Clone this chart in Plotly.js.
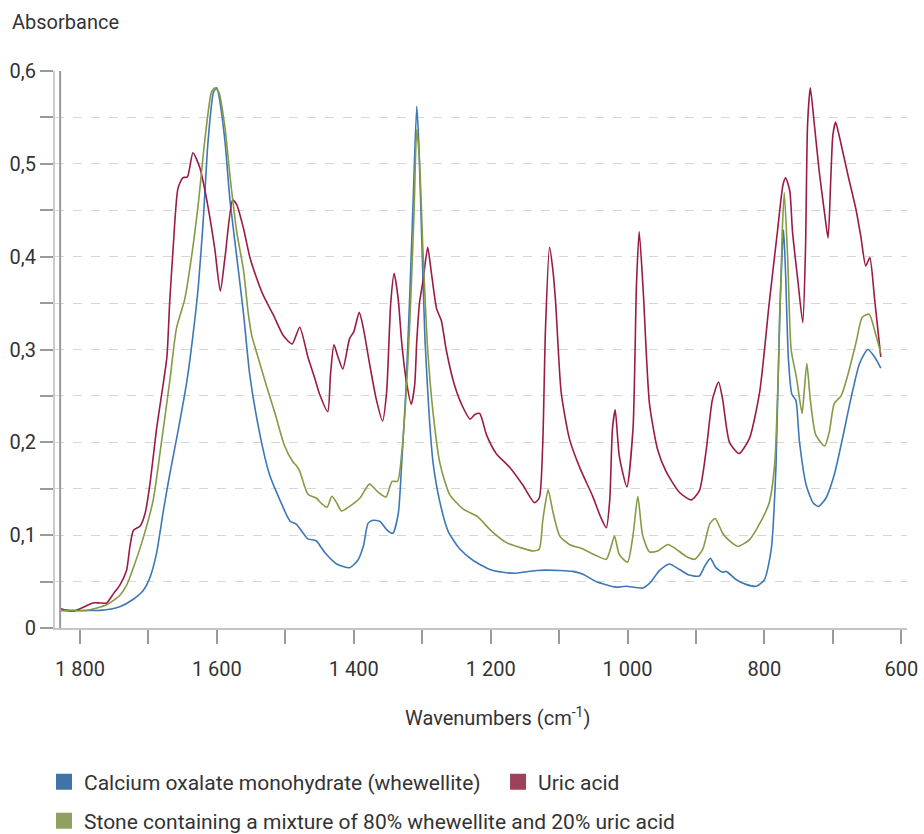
<!DOCTYPE html>
<html>
<head>
<meta charset="utf-8">
<script src="https://cdn.plot.ly/plotly-3.0.1.min.js"></script>
<style>html,body{margin:0;padding:0;background:#fff;}#chart{width:924px;height:834px;}</style>
</head>
<body>
<div id="chart"></div>
<script>
// ---- Data ----
const seriesNames = [
  "Calcium oxalate monohydrate (whewellite)",
  "Uric acid",
  "Stone containing a mixture of 80% whewellite and 20% uric acid"
];

const wnWhewellite = [1829,1810,1771,1742,1722,1708,1698,1688,1678,1669,1656,1644,1635,1627,1620,1613,1605,1600,1596,1588,1581,1571,1561,1552,1537,1523,1508,1493,1484,1467,1455,1442,1425,1406,1394,1386,1379,1372,1362,1352,1343,1335,1330,1324,1318,1313,1308,1305,1301,1296,1290,1284,1274,1262,1245,1226,1201,1182,1163,1133,1099,1080,1065,1046,1017,1002,978,968,953,939,924,910,895,887,879,871,861,856,841,827,812,800,790,783,778,772,769,765,760,754,749,739,729,721,710,698,686,674,661,649,639,630];
const absWhewellite = [0.019,0.019,0.019,0.023,0.031,0.040,0.054,0.081,0.127,0.165,0.215,0.265,0.315,0.369,0.438,0.523,0.577,0.582,0.569,0.523,0.462,0.400,0.338,0.273,0.208,0.165,0.138,0.115,0.112,0.096,0.094,0.081,0.069,0.065,0.073,0.088,0.113,0.116,0.115,0.106,0.102,0.123,0.177,0.254,0.362,0.465,0.562,0.523,0.427,0.312,0.231,0.177,0.135,0.104,0.085,0.073,0.063,0.060,0.059,0.062,0.062,0.061,0.058,0.050,0.044,0.045,0.043,0.048,0.062,0.069,0.063,0.057,0.056,0.067,0.075,0.065,0.060,0.061,0.052,0.047,0.045,0.052,0.085,0.177,0.331,0.429,0.380,0.290,0.252,0.245,0.202,0.154,0.135,0.131,0.140,0.165,0.204,0.246,0.285,0.300,0.292,0.280];

const wnUric = [1829,1810,1781,1771,1761,1751,1742,1732,1727,1722,1712,1705,1698,1688,1681,1673,1669,1664,1657,1650,1643,1635,1625,1613,1603,1595,1588,1577,1571,1561,1552,1542,1532,1518,1503,1490,1479,1467,1457,1450,1438,1434,1429,1423,1416,1406,1400,1392,1386,1377,1367,1358,1352,1346,1341,1335,1330,1323,1316,1311,1308,1304,1299,1292,1287,1279,1272,1265,1253,1240,1230,1223,1216,1206,1192,1172,1153,1136,1129,1124,1120,1114,1109,1105,1097,1085,1070,1051,1039,1031,1026,1022,1018,1012,1001,992,987,983,977,968,956,944,924,907,895,885,876,867,861,851,837,822,807,793,781,773,769,763,759,751,744,740,737,733,727,720,712,707,703,700,696,691,678,666,659,652,646,639,630];
const absUric = [0.021,0.018,0.027,0.027,0.027,0.037,0.046,0.062,0.088,0.105,0.110,0.123,0.154,0.215,0.250,0.292,0.350,0.408,0.473,0.485,0.486,0.512,0.496,0.454,0.408,0.363,0.400,0.461,0.456,0.430,0.400,0.377,0.358,0.338,0.315,0.306,0.324,0.292,0.269,0.252,0.233,0.273,0.305,0.292,0.279,0.312,0.319,0.340,0.323,0.285,0.246,0.223,0.254,0.350,0.382,0.354,0.308,0.265,0.241,0.262,0.308,0.350,0.373,0.410,0.385,0.344,0.331,0.300,0.262,0.237,0.225,0.230,0.231,0.208,0.188,0.173,0.154,0.135,0.140,0.196,0.320,0.410,0.385,0.350,0.254,0.204,0.173,0.142,0.119,0.108,0.138,0.215,0.235,0.185,0.152,0.215,0.369,0.427,0.362,0.242,0.192,0.169,0.146,0.138,0.148,0.192,0.246,0.265,0.246,0.200,0.188,0.204,0.254,0.350,0.427,0.477,0.485,0.471,0.427,0.373,0.329,0.408,0.542,0.582,0.542,0.492,0.446,0.420,0.485,0.531,0.545,0.531,0.488,0.450,0.421,0.390,0.399,0.354,0.292];

const wnMixture = [1829,1790,1761,1742,1732,1722,1708,1693,1681,1669,1659,1647,1637,1627,1618,1608,1603,1597,1588,1581,1571,1561,1554,1549,1540,1528,1515,1501,1489,1484,1479,1467,1455,1447,1439,1432,1425,1418,1406,1391,1377,1364,1353,1344,1336,1330,1324,1318,1312,1308,1304,1299,1292,1284,1274,1260,1240,1219,1201,1177,1158,1138,1129,1124,1121,1116,1109,1099,1085,1065,1046,1031,1025,1019,1012,1000,992,985,978,968,956,941,929,914,902,890,880,872,861,854,839,822,805,793,785,779,774,771,766,761,753,745,742,738,733,725,712,705,698,688,678,666,657,647,637,630];
const absMixture = [0.019,0.019,0.025,0.035,0.046,0.065,0.096,0.138,0.200,0.265,0.323,0.354,0.400,0.458,0.523,0.577,0.582,0.577,0.538,0.488,0.427,0.385,0.338,0.315,0.292,0.262,0.231,0.196,0.179,0.175,0.169,0.144,0.140,0.134,0.130,0.142,0.135,0.126,0.131,0.140,0.155,0.146,0.141,0.158,0.158,0.188,0.246,0.331,0.446,0.537,0.504,0.408,0.300,0.231,0.177,0.144,0.128,0.120,0.106,0.092,0.087,0.083,0.085,0.115,0.130,0.149,0.125,0.099,0.090,0.085,0.078,0.074,0.085,0.099,0.079,0.071,0.100,0.142,0.100,0.082,0.083,0.090,0.085,0.077,0.074,0.085,0.112,0.118,0.102,0.096,0.088,0.095,0.115,0.135,0.177,0.292,0.427,0.469,0.398,0.300,0.269,0.231,0.254,0.285,0.246,0.208,0.196,0.212,0.242,0.250,0.273,0.308,0.335,0.338,0.315,0.296];

const xTickValues = [1800,1600,1400,1200,1000,800,600];
const xTickLabels = ["1 800","1 600","1 400","1 200","1 000","800","600"];
const xMinorTickValues = [1700,1500,1300,1100,900,700];
const yTickValues = [0,0.1,0.2,0.3,0.4,0.5,0.6];
const yTickLabels = ["0","0,1","0,2","0,3","0,4","0,5","0,6"];
const yMinorTickValues = [0.05,0.15,0.25,0.35,0.45,0.55];

// ---- Styles ----
const lineColors = ["#3d78b6", "#9b1b48", "#859a45"];
const swatchColors = ["#3e74a8", "#9d4258", "#8fa060"];
const FONT = "Roboto, 'Open Sans', sans-serif";
const TXT = "#333333";
const TICK = "#9a9a9a";
const GRID = "#d6d6d6";

const xs = [wnWhewellite, wnUric, wnMixture];
const ys = [absWhewellite, absUric, absMixture];
const legendIds = ["legend", "legend3", "legend2"];

const traces = [];
for (let i = 0; i < 3; i++) {
  traces.push({
    type: "scatter", mode: "lines",
    x: xs[i], y: ys[i],
    line: {color: lineColors[i], width: 1.6, shape: "spline", smoothing: 0.6},
    showlegend: false, hoverinfo: "x+y", name: seriesNames[i]
  });
}
for (let i = 0; i < 3; i++) {
  traces.push({
    type: "scatter", mode: "markers",
    x: [null], y: [null],
    marker: {symbol: "square", size: 16, color: swatchColors[i]},
    name: seriesNames[i],
    showlegend: true,
    legend: legendIds[i]
  });
}

function legendAt(x, y) {
  return {
    orientation: "h", x: x, xanchor: "left", y: y, yanchor: "middle",
    font: {family: FONT, size: 21, color: TXT}, bgcolor: "rgba(0,0,0,0)",
    itemclick: false, itemdoubleclick: false
  };
}

const layout = {
  width: 924, height: 834,
  margin: {l: 55, r: 17, t: 71, b: 206, autoexpand: false},
  paper_bgcolor: "#ffffff", plot_bgcolor: "#ffffff",
  font: {family: FONT, size: 20, color: TXT},
  separators: ", ",
  xaxis: {
    range: [1836.5, 591.7], autorange: false,
    tickmode: "array", tickvals: xTickValues, ticktext: xTickLabels,
    ticks: "outside", ticklen: 14, tickwidth: 2, tickcolor: TICK,
    ticklabelstandoff: 8,
    minor: {tickmode: "array", tickvals: xMinorTickValues, ticks: "outside",
            ticklen: 14, tickwidth: 2, tickcolor: TICK, showgrid: false},
    showline: true, linecolor: "#c4c4c4", linewidth: 2,
    showgrid: false, zeroline: false, automargin: false,
    tickfont: {family: FONT, size: 20, color: TXT}
  },
  yaxis: {
    range: [0, 0.6], autorange: false,
    tickmode: "array", tickvals: yTickValues, ticktext: yTickLabels,
    ticks: "outside", ticklen: 13, tickwidth: 2, tickcolor: TICK,
    minor: {tickmode: "array", tickvals: yMinorTickValues, ticks: "outside",
            ticklen: 13, tickwidth: 2, tickcolor: TICK,
            showgrid: true, gridcolor: GRID, gridwidth: 1, griddash: "dash"},
    showline: true, linecolor: "#cccccc", linewidth: 2,
    showgrid: true, gridcolor: GRID, gridwidth: 1, griddash: "dash",
    zeroline: false, automargin: false,
    tickfont: {family: FONT, size: 20, color: TXT}
  },
  shapes: [{
    type: "line", xref: "x", yref: "paper",
    x0: wnWhewellite[0], x1: wnWhewellite[0], y0: 0, y1: 1,
    line: {color: TICK, width: 2}, layer: "above"
  }],
  annotations: [
    {text: "Absorbance", xref: "paper", yref: "paper", x: -0.0528, y: 1.088,
     xanchor: "left", yanchor: "middle", showarrow: false,
     font: {family: FONT, size: 20, color: TXT}},
    {text: "Wavenumbers (cm<sup>-1</sup>)", xref: "paper", yref: "paper", x: 0.519, y: -0.16,
     xanchor: "center", yanchor: "middle", showarrow: false,
     font: {family: FONT, size: 20, color: TXT}}
  ],
  legend: legendAt(-0.0129, -0.2765),
  legend3: legendAt(0.520, -0.2765),
  legend2: legendAt(-0.0129, -0.3465)
};

Plotly.newPlot("chart", traces, layout, {displayModeBar: false, staticPlot: true});
</script>
</body>
</html>
